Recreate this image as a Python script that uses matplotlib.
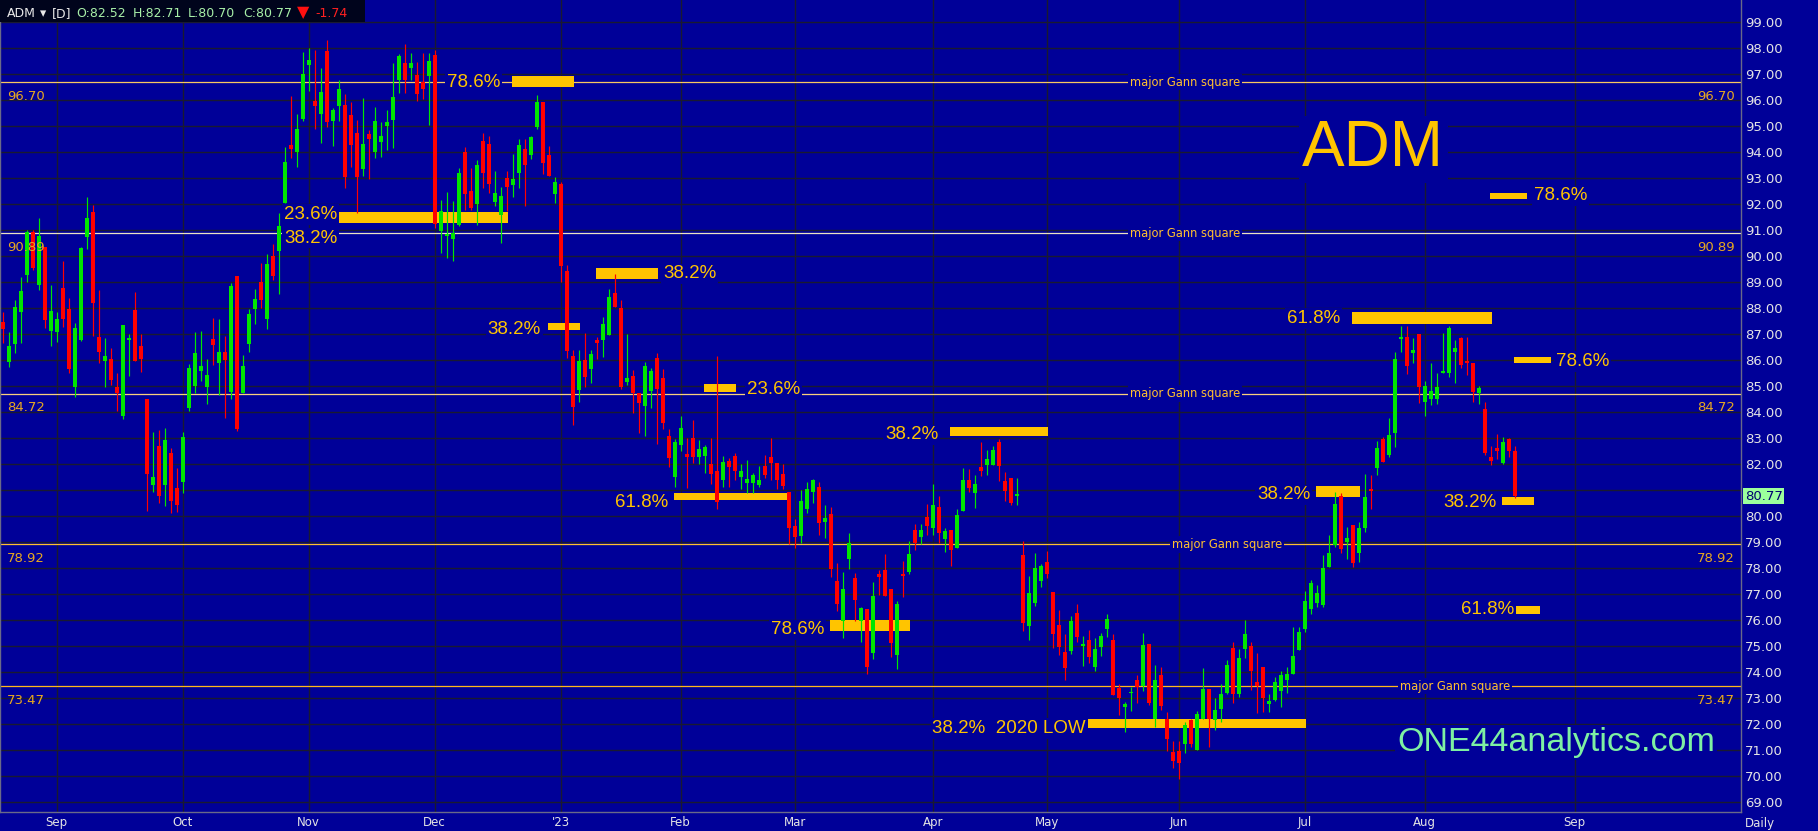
import numpy as np
import pandas as pd
import matplotlib
matplotlib.use('Agg')
import matplotlib.pyplot as plt
from matplotlib.patches import Rectangle

# ADM daily candles, 19 Aug 2022 -> 22 Aug 2023
opens = [87.49, 85.95, 86.64, 87.87, 89.28, 90.95, 88.90, 90.34, 87.13,
         87.09, 88.79, 87.97, 84.97, 86.78, 90.75, 91.70, 86.90, 85.98, 86.05,
         84.97, 83.86, 86.77, 87.93, 86.55, 84.51, 81.20, 82.70, 81.20, 82.43,
         81.07, 81.33, 84.18, 85.02, 85.60, 84.98, 86.82, 85.91, 86.32, 84.79,
         89.24, 84.75, 86.64, 87.97, 89.01, 87.59, 90.01, 90.20, 92.06, 94.28,
         94.02, 95.28, 97.36, 95.97, 95.47, 97.90, 95.22, 95.79, 95.82, 95.43,
         94.73, 93.36, 94.70, 94.02, 94.41, 95.01, 95.24, 96.78, 97.45, 97.26,
         96.99, 96.72, 96.95, 97.74, 90.98, 90.78, 90.67, 91.20, 94.01, 92.50,
         92.01, 94.43, 94.32, 92.10, 91.58, 93.01, 92.73, 93.22, 94.11, 93.91,
         94.99, 95.93, 93.90, 92.38, 92.78, 89.43, 86.16, 84.86, 86.01, 85.66,
         86.78, 86.78, 86.97, 88.57, 88.01, 85.17, 85.40, 84.73, 84.24, 84.83,
         86.09, 85.32, 83.10, 81.52, 82.73, 82.40, 83.01, 82.29, 82.33, 82.01,
         81.74, 81.40, 82.11, 82.32, 81.50, 81.30, 81.27, 81.20, 81.93, 82.27,
         82.04, 81.63, 80.92, 79.63, 79.25, 80.28, 80.95, 81.11, 79.79, 80.09,
         77.51, 75.99, 78.35, 77.63, 75.99, 76.43, 74.76, 77.78, 77.93, 77.19,
         74.67, 77.78, 77.84, 79.47, 79.21, 79.96, 79.56, 80.35, 79.13, 79.47,
         78.79, 80.22, 81.40, 80.91, 81.88, 81.97, 81.99, 82.85, 81.36, 81.49,
         80.78, 78.51, 75.79, 76.65, 77.51, 78.25, 77.09, 75.82, 74.79, 74.82,
         76.29, 75.00, 75.24, 74.22, 74.96, 75.65, 75.24, 73.41, 72.68, 73.19,
         73.70, 73.47, 75.09, 72.19, 73.90, 72.19, 70.92, 70.99, 71.23, 72.16,
         71.01, 72.19, 73.35, 72.16, 72.60, 73.22, 74.95, 73.17, 74.88, 75.02,
         73.61, 74.22, 72.77, 72.93, 73.29, 73.70, 73.93, 74.86, 75.65, 76.43,
         76.68, 76.59, 78.06, 78.90, 80.79, 79.03, 79.67, 78.60, 79.54, 81.04,
         81.87, 82.96, 82.35, 83.22, 86.81, 86.88, 86.27, 87.00, 84.41, 84.50,
         84.50, 85.52, 85.52, 86.33, 86.85, 85.97, 85.88, 84.73, 84.13, 82.29,
         82.61, 82.04, 82.96, 82.52]
highs = [87.87, 87.10, 88.32, 89.22, 91.01, 91.01, 91.47, 90.37, 88.90,
         87.84, 89.82, 88.41, 87.43, 90.37, 92.30, 91.97, 88.70, 86.84, 86.46,
         85.50, 87.36, 87.00, 88.63, 87.02, 84.51, 83.23, 83.32, 83.40, 82.63,
         81.84, 83.25, 85.85, 87.10, 87.12, 86.05, 87.63, 87.58, 86.93, 88.96,
         89.24, 86.20, 87.96, 88.74, 89.74, 90.07, 90.47, 91.65, 94.20, 96.16,
         95.47, 97.86, 98.01, 97.93, 97.23, 98.32, 95.70, 96.80, 96.24, 95.95,
         95.24, 96.09, 94.86, 95.73, 95.15, 95.63, 97.45, 97.80, 98.15, 97.81,
         97.47, 97.83, 97.83, 97.93, 92.16, 92.46, 92.13, 93.41, 94.19, 93.40,
         93.70, 94.73, 94.63, 93.28, 92.68, 93.28, 93.93, 94.51, 94.50, 94.63,
         96.20, 95.93, 94.26, 93.06, 92.86, 89.66, 86.40, 86.40, 87.06, 86.40,
         86.88, 87.65, 88.74, 89.32, 88.32, 87.01, 85.63, 84.73, 85.95, 85.69,
         86.27, 85.65, 83.34, 82.96, 83.86, 83.00, 83.70, 82.93, 82.74, 83.00,
         86.16, 82.32, 82.23, 82.45, 82.01, 82.16, 81.65, 81.93, 82.36, 83.00,
         82.04, 82.01, 80.92, 79.88, 81.01, 81.33, 81.42, 81.33, 80.43, 80.35,
         78.19, 77.84, 79.35, 77.81, 76.50, 76.43, 77.46, 77.94, 78.55, 77.19,
         76.74, 78.29, 79.05, 79.70, 79.70, 80.47, 81.24, 80.78, 79.56, 79.47,
         80.27, 81.87, 81.82, 81.59, 82.85, 82.55, 82.70, 82.97, 81.69, 81.49,
         81.46, 79.06, 77.72, 78.60, 78.15, 78.66, 77.09, 76.40, 75.47, 76.17,
         76.63, 75.40, 75.63, 75.31, 75.52, 76.24, 75.47, 73.55, 72.87, 73.45,
         73.90, 75.50, 75.09, 74.28, 74.22, 72.49, 71.36, 71.37, 72.10, 72.19,
         72.52, 74.15, 73.35, 73.00, 73.55, 74.47, 75.15, 74.88, 76.01, 75.15,
         74.76, 74.22, 73.17, 73.83, 74.05, 74.22, 75.76, 75.76, 77.14, 77.55,
         77.36, 78.51, 79.28, 80.92, 80.88, 79.60, 79.67, 79.80, 81.63, 81.59,
         82.91, 83.06, 83.77, 86.31, 87.32, 87.32, 86.84, 87.00, 85.22, 85.88,
         85.52, 87.04, 87.32, 86.80, 86.88, 86.88, 85.88, 85.01, 84.41, 82.70,
         83.15, 83.04, 83.02, 82.71]
lows = [86.65, 85.75, 86.27, 86.65, 89.00, 89.47, 88.70, 87.23, 86.55,
        86.72, 87.29, 85.50, 84.60, 86.75, 90.28, 86.95, 85.88, 84.96, 85.05,
        84.05, 83.73, 85.40, 85.99, 85.56, 80.20, 80.95, 80.50, 80.40, 80.14,
        80.18, 80.90, 84.06, 84.73, 85.20, 84.32, 85.82, 84.66, 83.79, 84.50,
        83.29, 84.73, 86.32, 87.41, 88.01, 87.20, 89.09, 88.55, 92.04, 93.79,
        93.45, 95.22, 96.37, 94.91, 94.37, 94.98, 94.26, 95.22, 92.61, 93.45,
        91.65, 93.10, 92.96, 93.79, 93.83, 94.09, 94.18, 96.30, 96.29, 96.78,
        95.99, 96.05, 95.05, 91.10, 90.14, 89.95, 89.83, 91.18, 91.78, 91.78,
        91.22, 92.61, 92.42, 91.95, 90.52, 91.75, 92.29, 92.61, 91.95, 93.73,
        94.88, 93.15, 93.10, 92.06, 89.02, 86.07, 83.51, 84.41, 84.99, 85.14,
        86.04, 86.14, 86.97, 88.06, 84.88, 85.05, 83.96, 83.22, 83.10, 84.15,
        82.80, 83.34, 81.91, 81.11, 82.52, 81.07, 82.04, 82.01, 81.68, 81.23,
        80.28, 81.14, 81.14, 81.40, 81.04, 80.88, 80.88, 81.14, 81.46, 81.40,
        81.04, 81.04, 78.92, 78.79, 78.99, 80.12, 80.52, 79.28, 79.18, 77.68,
        76.37, 75.33, 77.97, 75.97, 75.18, 73.94, 74.50, 76.97, 76.95, 74.60,
        74.14, 76.91, 77.78, 78.70, 78.93, 79.28, 79.28, 78.99, 78.64, 78.10,
        78.79, 80.22, 80.95, 80.33, 81.56, 81.59, 81.97, 81.36, 80.59, 80.43,
        80.43, 75.60, 75.24, 76.56, 77.29, 77.61, 74.92, 74.66, 73.70, 74.70,
        75.18, 74.26, 74.34, 74.06, 74.64, 75.37, 73.13, 72.36, 71.72, 72.52,
        72.81, 73.29, 72.74, 71.91, 72.55, 70.97, 70.31, 69.88, 70.91, 71.14,
        71.01, 72.19, 71.14, 71.78, 72.08, 73.17, 72.81, 73.04, 74.54, 73.32,
        72.45, 72.49, 72.49, 72.90, 72.68, 73.19, 73.93, 74.86, 75.56, 76.24,
        76.50, 76.52, 78.06, 78.83, 78.58, 78.34, 78.06, 78.25, 79.41, 80.27,
        81.59, 82.08, 82.27, 82.68, 86.33, 85.47, 85.88, 84.34, 83.87, 84.28,
        84.31, 85.50, 85.37, 85.14, 85.69, 85.43, 84.38, 84.32, 82.36, 81.97,
        82.20, 82.00, 82.29, 80.70]
closes = [87.20, 86.55, 88.05, 88.66, 90.95, 89.56, 90.78, 87.55, 87.90,
          87.59, 87.59, 85.67, 87.24, 90.33, 91.47, 88.20, 86.33, 86.16, 85.24,
          84.74, 87.36, 86.84, 85.99, 86.06, 81.64, 81.50, 80.79, 82.93, 80.60,
          80.43, 83.04, 85.69, 86.28, 85.78, 85.42, 86.59, 86.32, 86.01, 88.85,
          83.37, 85.78, 87.78, 88.36, 88.33, 89.70, 89.24, 91.16, 93.64, 94.13,
          94.90, 97.01, 97.55, 95.79, 96.33, 95.18, 95.63, 96.43, 93.06, 94.28,
          93.06, 94.32, 94.51, 95.20, 94.63, 95.16, 96.13, 97.70, 96.78, 97.45,
          96.24, 96.43, 97.51, 91.25, 91.74, 90.84, 90.88, 93.19, 92.41, 91.87,
          93.52, 93.22, 92.80, 92.42, 92.32, 92.65, 92.98, 94.27, 93.51, 94.60,
          95.93, 93.60, 93.10, 92.84, 89.64, 86.36, 84.22, 85.99, 85.37, 86.24,
          86.65, 87.40, 88.45, 88.06, 84.98, 85.32, 84.75, 84.34, 85.78, 85.60,
          84.88, 83.60, 82.23, 82.84, 83.40, 82.29, 82.27, 82.57, 82.68, 81.63,
          80.56, 82.07, 81.88, 81.75, 81.74, 81.43, 81.59, 81.40, 81.59, 82.04,
          81.40, 81.18, 79.56, 79.22, 80.60, 81.04, 81.40, 79.73, 79.95, 77.97,
          76.63, 77.20, 78.96, 76.78, 76.49, 74.22, 76.93, 77.68, 76.95, 75.11,
          76.63, 77.70, 78.54, 78.96, 79.47, 79.63, 80.43, 79.37, 79.43, 78.70,
          80.05, 81.40, 81.08, 81.24, 81.74, 82.20, 82.55, 81.95, 80.98, 80.50,
          80.82, 75.88, 77.04, 78.02, 78.10, 77.78, 75.47, 74.96, 74.18, 75.97,
          75.37, 75.03, 74.60, 74.90, 75.40, 76.05, 73.13, 73.02, 72.80, 73.26,
          73.42, 75.05, 72.83, 73.70, 72.72, 71.42, 70.60, 70.52, 71.97, 71.23,
          72.40, 73.36, 72.19, 72.55, 73.17, 74.28, 73.15, 74.56, 75.47, 74.06,
          73.49, 73.02, 72.90, 73.61, 73.90, 73.93, 74.63, 75.56, 76.74, 77.45,
          77.06, 78.00, 78.58, 80.47, 78.73, 79.16, 78.19, 79.54, 80.73, 80.99,
          82.63, 82.10, 83.11, 86.04, 86.88, 85.79, 86.40, 84.96, 85.01, 84.82,
          84.96, 85.56, 87.23, 86.46, 85.82, 85.88, 84.79, 84.92, 82.42, 82.14,
          82.52, 82.84, 82.51, 80.77]

holidays = ['2022-09-05', '2022-11-24', '2022-12-26', '2023-01-02', '2023-01-16',
            '2023-02-20', '2023-04-07', '2023-05-29', '2023-06-19', '2023-07-04']

# major Gann squares
gann_levels = [96.70, 90.89, 84.72, 78.92, 73.47]
gann_colors = ['#f8c860', '#ece2c0', '#f8d07c', '#ffc030', '#ffb81c']
gann_label_x = [197.0, 197.0, 197.0, 204.0, 242.0]

# fibonacci retracement markers (bar position in trading days, price band)
fib_x0 = [84.9, 56.0, 98.9, 90.9, 116.9, 111.9, 157.9, 137.9, 180.7, 247.9, 224.9, 251.9, 218.9, 249.9, 252.1]
fib_x1 = [95.2, 84.2, 109.2, 96.2, 122.2, 130.7, 174.2, 151.2, 217.2, 254.1, 248.2, 258.1, 226.2, 255.2, 256.2]
fib_lo = [96.50, 91.30, 89.11, 87.15, 84.78, 80.62, 83.08, 75.60, 71.87, 92.20, 87.39, 85.90, 80.74, 80.43, 76.23]
fib_hi = [96.92, 91.70, 89.54, 87.45, 85.08, 80.88, 83.43, 76.00, 72.20, 92.43, 87.85, 86.12, 81.16, 80.74, 76.55]

fib_text = ['78.6%', '23.6%', '38.2%', '38.2%', '38.2%', '23.6%', '61.8%', '38.2%', '78.6%',
            '38.2%  2020 LOW', '78.6%', '61.8%', '78.6%', '38.2%', '38.2%', '61.8%']
fib_tx = [82.9, 46.9, 46.9, 110.05, 89.7, 124.05, 110.9, 155.9, 136.9,
          180.55, 255.2, 222.9, 258.9, 217.9, 248.9, 251.9]
fib_ty = [96.67, 91.62, 90.70, 89.32, 87.20, 84.86, 80.55, 83.13, 75.63,
          71.85, 92.32, 87.62, 85.96, 80.82, 80.55, 76.40]
fib_ha = ['right', 'left', 'left', 'left', 'right', 'left', 'right', 'right', 'right',
          'right', 'left', 'right', 'left', 'right', 'right', 'right']

bg = '#000098'
up_col = '#00e600'
dn_col = '#ff0000'
gold = '#ffc400'

plt.rcParams['font.family'] = ['DejaVu Sans']

dates = pd.bdate_range('2022-08-19', '2023-08-22', freq='C', holidays=holidays)
n = len(opens)
x = np.arange(n)
o = np.array(opens); h = np.array(highs); l = np.array(lows); c = np.array(closes)

W, H = 1818, 831
fig = plt.figure(figsize=(W / 100, H / 100), dpi=100)
fig.patch.set_facecolor(bg)
ax = fig.add_axes([0, (H - 812) / H, 1741 / W, 812 / H])
ax.set_facecolor(bg)
ax.set_xlim(-0.45, 289.7)
ax.set_ylim(68.627, 99.858)

# month ticks
month_pos, month_lab = [], []
prev = None
for i, d in enumerate(dates):
    if d.month != prev:
        if prev is not None:
            month_pos.append(i)
            month_lab.append("'23" if d.month == 1 else d.strftime('%b'))
        prev = d.month
future = pd.bdate_range(dates[-1] + pd.Timedelta(days=1), '2023-09-01')
month_pos.append(n - 1 + len(future) + 2)  # axis pads the future side a little
month_lab.append('Sep')

ax.set_xticks(month_pos)
ax.set_xticklabels(month_lab)
yt = np.arange(69, 100)
ax.set_yticks(yt)
# the last price tag takes the place of the nearest round label
ax.set_yticklabels(['' if abs(v - c[-1]) < 0.5 else '%.2f' % v for v in yt])
ax.yaxis.tick_right()
ax.tick_params(axis='y', length=0, pad=3, labelsize=9.5, labelcolor='#e4e4e4')
ax.tick_params(axis='x', length=0, pad=3, labelcolor='#e4e4e4')
for lab in ax.get_xticklabels():
    lab.set_family(['Liberation Sans Narrow', 'DejaVu Sans'])
    lab.set_fontsize(8.5)
ax.grid(True, color='#1a1a30', lw=1.0, zorder=0)
ax.set_axisbelow(True)
for s in ['left', 'bottom', 'right']:
    ax.spines[s].set_color('#6a6a88')
    ax.spines[s].set_linewidth(1.0)
ax.spines['top'].set_visible(False)

# Gann lines and labels
for lev, col, lx in zip(gann_levels, gann_colors, gann_label_x):
    ax.axhline(lev, color=col, lw=0.9, zorder=1)
    ax.text(lx, lev, 'major Gann square', color='#ffc030', fontsize=8.3,
            ha='center', va='center', zorder=6,
            bbox=dict(boxstyle='square,pad=0.15', fc=bg, ec='none'))
    ax.text(7 / 1741, lev - 0.54, '%.2f' % lev, transform=ax.get_yaxis_transform(),
            color='#e8a820', fontsize=9.5, ha='left', va='center', zorder=6)
    ax.text(1735 / 1741, lev - 0.54, '%.2f' % lev, transform=ax.get_yaxis_transform(),
            color='#e8a820', fontsize=9.5, ha='right', va='center', zorder=6)

# fib bars (under the candles)
for x0, x1, lo, hi in zip(fib_x0, fib_x1, fib_lo, fib_hi):
    ax.add_patch(Rectangle((x0, lo), x1 - x0, hi - lo, fc=gold, ec='none', zorder=2))

# candles
cols = np.where(c >= o, up_col, dn_col)
ax.vlines(x, l, h, colors=cols, lw=0.85, zorder=3)
body_lo = np.minimum(o, c)
body_h = np.maximum(np.abs(c - o), 0.07)
ax.bar(x, body_h, bottom=body_lo, width=0.68, color=cols, linewidth=0, zorder=4)

# fib labels
for t, tx, ty, ha in zip(fib_text, fib_tx, fib_ty, fib_ha):
    ax.text(tx, ty, t, color=gold, fontsize=13.5, ha=ha, va='center',
            family=['Liberation Sans', 'DejaVu Sans'], zorder=7,
            bbox=dict(boxstyle='square,pad=0.1', fc=bg, ec='none'))

ax.text(216.6, 93.46, 'ADM', color=gold, fontsize=46, ha='left', va='baseline',
        family=['Liberation Sans', 'DejaVu Sans'], zorder=7,
        bbox=dict(boxstyle='square,pad=0.05', fc=bg, ec='none'))
ax.text(232.4, 70.97, 'ONE44analytics.com', color='#7ef0a2', fontsize=24.5,
        ha='left', va='baseline', family=['Liberation Sans', 'DejaVu Sans'], zorder=7,
        bbox=dict(boxstyle='square,pad=0.05', fc=bg, ec='none'))

# last price tag
ax.text(1.0 + 4 / 1741, c[-1], '%.2f' % c[-1], transform=ax.get_yaxis_transform(),
        color='#000070', fontsize=9.5, ha='left', va='center', zorder=8, clip_on=False,
        bbox=dict(boxstyle='square,pad=0.12', fc='#9cff9c', ec='none'))
fig.text(1745 / W, 1 - 823 / H, 'Daily', color='#e4e4e4', fontsize=8.5, ha='left', va='center',
         family=['Liberation Sans Narrow', 'DejaVu Sans'])

# header box
fig.patches.append(Rectangle((0, 1 - 21.7 / H), 365 / W, 21.7 / H, transform=fig.transFigure,
                             fc='#00041c', ec='none', zorder=10))
chg = c[-1] - c[-2]
hdr = [('ADM', 7, '#e8e8e8', 9), ('\u25be', 40, '#e8e8e8', 9), ('[D]', 52, '#e8e8e8', 9),
       ('O:%.2f' % o[-1], 76, '#a8f0a8', 9), ('H:%.2f' % h[-1], 133, '#a8f0a8', 9),
       ('L:%.2f' % l[-1], 188, '#a8f0a8', 9), ('C:%.2f' % c[-1], 243, '#a8f0a8', 9),
       ('\u25bc', 297, '#ff1010', 11.5), ('%.2f' % chg, 315, '#ff2020', 9)]
for t, px, col, fs in hdr:
    fig.text(px / W, 1 - 16.7 / H, t, color=col, fontsize=fs, ha='left', va='baseline', zorder=11)

fig.savefig('out.png', dpi=100, facecolor=bg)
